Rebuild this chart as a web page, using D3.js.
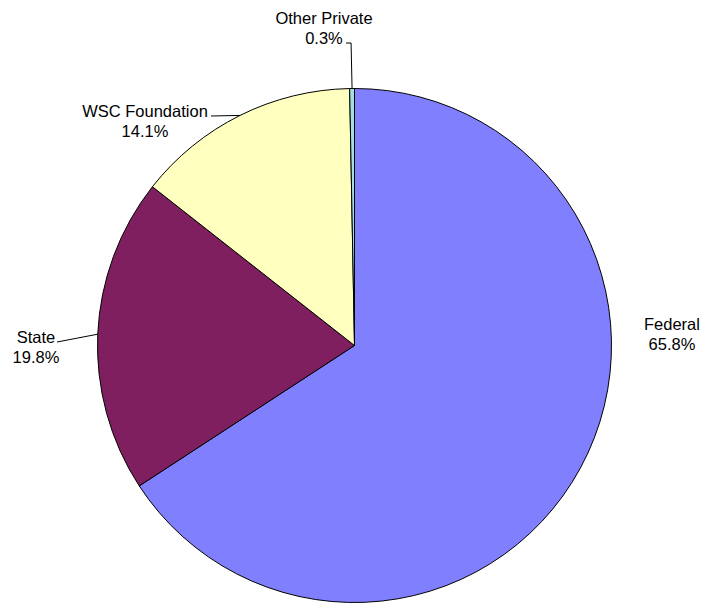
<!DOCTYPE html>
<html>
<head>
<meta charset="utf-8">
<script src="https://cdn.jsdelivr.net/npm/d3@7"></script>
<style>
  html, body { margin: 0; padding: 0; background: #fff; }
  svg { display: block; }
  text { font-family: "Liberation Sans", Arial, sans-serif; font-size: 16.5px; fill: #000; }
</style>
</head>
<body>
<div id="chart"></div>
<script>
// categories and shares (%)
var categories = ["Federal", "State", "WSC Foundation", "Other Private"];
var shares = [65.8, 19.8, 14.1, 0.3];
var colors = ["#8080FF", "#7F1F5F", "#FFFFC0", "#A0E0E0"];

// label layout (Excel style placement): centre x, first baseline, leader start
var labelX = [672, 36, 145, 324];
var labelY = [330, 343, 117, 24];
var leaderStart = [null, [57, 342], [211, 116], [346, 43]];

var width = 706, height = 603;
var cx = 354.5, cy = 345.5, radius = 257;

var svg = d3.select("#chart")
  .append("svg")
    .attr("width", width)
    .attr("height", height);

var data = categories.map(function(c, i) {
  return {name: c, value: shares[i], color: colors[i], i: i};
});

var pie = d3.pie()
  .sort(null)
  .value(function(d) { return d.value; });

var arc = d3.arc()
  .innerRadius(0)
  .outerRadius(radius);

var arcs = pie(data);

var g = svg.append("g")
  .attr("transform", "translate(" + cx + "," + cy + ")");

g.selectAll("path")
  .data(arcs)
  .enter()
  .append("path")
    .attr("d", arc)
    .attr("fill", function(d) { return d.data.color; })
    .attr("stroke", "#000")
    .attr("stroke-width", 1)
    .attr("stroke-linejoin", "round");

// leader lines: from label to the slice edge at its mid angle
arcs.forEach(function(a, i) {
  if (!leaderStart[i]) return;
  var mid = (a.startAngle + a.endAngle) / 2;
  var ex = cx + radius * Math.sin(mid);
  var ey = cy - radius * Math.cos(mid);
  var s = leaderStart[i];
  var pts = [s];
  // near-vertical leaders get an elbow
  if (Math.abs(ey - s[1]) > Math.abs(ex - s[0]) * 2) pts.push([ex - 1, s[1]]);
  pts.push([ex, ey]);
  svg.append("path")
    .attr("d", d3.line()(pts))
    .attr("fill", "none")
    .attr("stroke", "#000")
    .attr("stroke-width", 1);
});

// labels
arcs.forEach(function(a, i) {
  var t = svg.append("text")
    .attr("text-anchor", "middle")
    .attr("x", labelX[i])
    .attr("y", labelY[i]);
  t.append("tspan")
    .attr("x", labelX[i])
    .text(a.data.name);
  t.append("tspan")
    .attr("x", labelX[i])
    .attr("dy", 20)
    .text(a.data.value.toFixed(1) + "%");
});
</script>
</body>
</html>
